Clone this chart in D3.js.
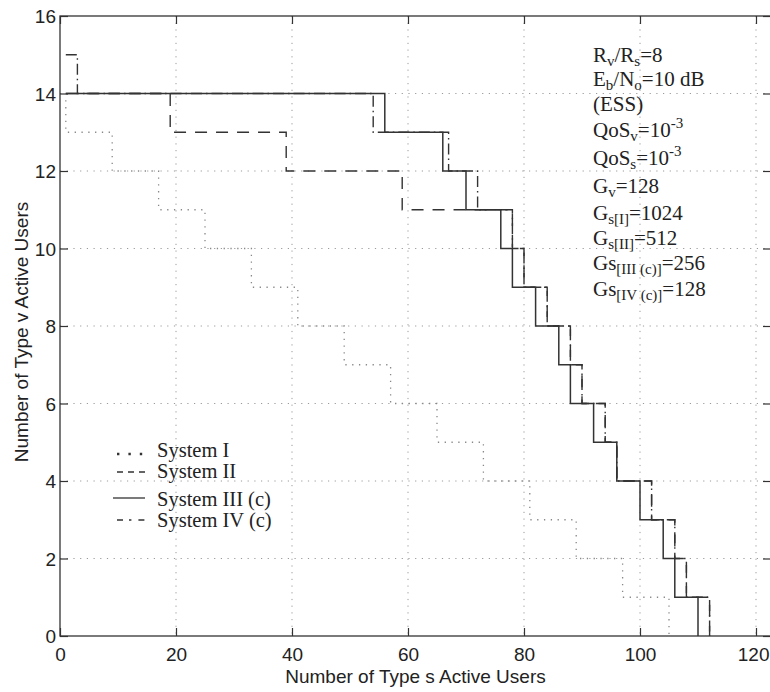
<!DOCTYPE html>
<html><head><meta charset="utf-8">
<script src="https://cdn.jsdelivr.net/npm/d3@7"></script>
<style>html,body{margin:0;padding:0;background:#fff;}svg{display:block;}</style>
</head><body>
<script>
// ---- data ----
const xTicks = [0, 20, 40, 60, 80, 100, 120];
const yTicks = [0, 2, 4, 6, 8, 10, 12, 14, 16];
// each point: the level y starts at x (step-after)
const sysI_x   = [1, 1, 9, 17, 25, 33, 41, 49, 57, 65, 73, 81, 89, 97, 105];
const sysI_y   = [14, 13, 12, 11, 10, 9, 8, 7, 6, 5, 4, 3, 2, 1, 0];
const sysII_x  = [1, 19, 39, 59, 78, 80, 84, 88, 90, 94, 96, 102, 106, 108, 112];
const sysII_y  = [14, 13, 12, 11, 10, 9, 8, 7, 6, 5, 4, 3, 2, 1, 0];
const sysIII_x = [1, 56, 66, 70, 76, 78, 82, 86, 88, 92, 96, 100, 104, 106, 110];
const sysIII_y = [14, 13, 12, 11, 10, 9, 8, 7, 6, 5, 4, 3, 2, 1, 0];
const sysIV_x  = [1, 3, 54, 67, 72, 78, 80, 84, 88, 90, 94, 96, 102, 106, 108, 112];
const sysIV_y  = [15, 14, 13, 12, 11, 10, 9, 8, 7, 6, 5, 4, 3, 2, 1, 0];
const seriesNames = ["System I", "System II", "System III (c)", "System IV (c)"];
const xTitle = "Number of Type s Active Users";
const yTitle = "Number of Type v Active Users";
// annotation lines: [text, kind] kind: n normal, sub, sup
const annotation = [
  [["R","n"],["v","sub"],["/R","n"],["s","sub"],["=8","n"]],
  [["E","n"],["b","sub"],["/N","n"],["o","sub"],["=10 dB","n"]],
  [["(ESS)","n"]],
  [["QoS","n"],["v","sub"],["=10","n"],["-3","sup"]],
  [["QoS","n"],["s","sub"],["=10","n"],["-3","sup"]],
  [["G","n"],["v","sub"],["=128","n"]],
  [["G","n"],["s[I]","sub"],["=1024","n"]],
  [["G","n"],["s[II]","sub"],["=512","n"]],
  [["Gs","n"],["[III (c)]","sub"],["=256","n"]],
  [["Gs","n"],["[IV (c)]","sub"],["=128","n"]]
];

// ---- layout ----
const W = 770, H = 692;
const L = 60, R = 771, T = 16, B = 636;
const svg = d3.select("body").append("svg").attr("width", W).attr("height", H)
  .style("background", "#fff");

const x = d3.scaleLinear().domain([0, 120]).range([L, L + 5.8 * 120]);
const y = d3.scaleLinear().domain([0, 16]).range([B, T]);

// grid
const grid = svg.append("g").attr("stroke", "#9a9a9a").attr("stroke-width", 1)
  .attr("stroke-dasharray", "1.2,5.5");
xTicks.filter(d => d > 0).forEach(d => {
  grid.append("line").attr("x1", x(d)).attr("x2", x(d)).attr("y1", T).attr("y2", B);
});
yTicks.filter(d => d > 0 && d < 16).forEach(d => {
  grid.append("line").attr("x1", L).attr("x2", R).attr("y1", y(d)).attr("y2", y(d));
});

// axes (MATLAB-like box with inward ticks)
const axB = svg.append("g").attr("transform", `translate(0,${B})`)
  .call(d3.axisBottom(x).tickValues(xTicks).tickSizeInner(-8).tickSizeOuter(0).tickPadding(12));
const axT = svg.append("g").attr("transform", `translate(0,${T})`)
  .call(d3.axisTop(x).tickValues(xTicks).tickSizeInner(-8).tickSizeOuter(0).tickFormat(""));
const axL = svg.append("g").attr("transform", `translate(${L},0)`)
  .call(d3.axisLeft(y).tickValues(yTicks).tickSizeInner(-8).tickSizeOuter(0).tickPadding(4));
const yR = d3.scaleLinear().domain([0, 16]).range([B, T]);
const axR = svg.append("g").attr("transform", `translate(${R},0)`)
  .call(d3.axisRight(yR).tickValues(yTicks).tickSizeInner(-8).tickSizeOuter(0).tickFormat(""));
[axB, axT, axL, axR].forEach(a => {
  a.selectAll("path.domain").remove();
  a.selectAll("line").attr("stroke", "#333").attr("stroke-width", 1.2);
  a.selectAll("text").attr("fill", "#222").style("font-family", "'Liberation Sans', Arial, sans-serif")
    .style("font-size", "19px");
});
axB.selectAll("text").attr("dy", "0.71em");
// keep the last label inside the window
axB.selectAll(".tick").filter(d => d === 120).select("text")
  .attr("text-anchor", "end").attr("x", W - x(120) - 1);
axL.selectAll("text").attr("dy", "0.36em");
// box
svg.append("rect").attr("x", L).attr("y", T).attr("width", R - L).attr("height", B - T)
  .attr("fill", "none").attr("stroke", "#333").attr("stroke-width", 1.3);

// titles
svg.append("text").attr("x", (L + R) / 2).attr("y", 683).attr("text-anchor", "middle")
  .style("font-family", "'Liberation Sans', Arial, sans-serif").style("font-size", "19px")
  .attr("fill", "#222").text(xTitle);
svg.append("text").attr("transform", `translate(28,${(T + B) / 2 + 6}) rotate(-90)`)
  .attr("text-anchor", "middle")
  .style("font-family", "'Liberation Sans', Arial, sans-serif").style("font-size", "19px")
  .attr("fill", "#222").text(yTitle);

// series
const line = d3.line().x(d => x(d[0])).y(d => y(d[1])).curve(d3.curveStepAfter);
const series = [
  {xs: sysI_x, ys: sysI_y, dash: "1.3,5.5", color: "#888", w: 1.3},
  {xs: sysII_x, ys: sysII_y, dash: "12,9", color: "#333", w: 1.4},
  {xs: sysIII_x, ys: sysIII_y, dash: null, color: "#333", w: 1.5},
  {xs: sysIV_x, ys: sysIV_y, dash: "11,4,1.5,4", color: "#333", w: 1.4}
];
series.forEach(s => {
  const pts = s.xs.map((v, i) => [v, s.ys[i]]);
  svg.append("path").attr("d", line(pts)).attr("fill", "none")
    .attr("stroke", s.color).attr("stroke-width", s.w)
    .attr("stroke-dasharray", s.dash);
});

// legend
const legBase = [457, 478, 506, 527];
const legSample = [
  {y: 454, dash: "2.4,9", w: 2.4, color: "#333", x1: 117, x2: 147},
  {y: 472, dash: "6,5", w: 1.5, color: "#333", x1: 117, x2: 147},
  {y: 498, dash: null, w: 1.3, color: "#333", x1: 113, x2: 145},
  {y: 520, dash: "6,6,2.4,7,6", w: 1.6, color: "#333", x1: 117, x2: 147}
];
seriesNames.forEach((n, i) => {
  const s = legSample[i];
  svg.append("line").attr("x1", s.x1).attr("x2", s.x2).attr("y1", s.y).attr("y2", s.y)
    .attr("stroke", s.color).attr("stroke-width", s.w).attr("stroke-dasharray", s.dash);
  svg.append("text").attr("x", 157).attr("y", legBase[i])
    .style("font-family", "'Liberation Serif', 'Times New Roman', serif").style("font-size", "20.5px")
    .attr("fill", "#222").text(n);
});

// annotation
const annBase = [62, 86, 111, 137, 165, 193, 220, 245, 270, 296];
annotation.forEach((segs, i) => {
  const t = svg.append("text").attr("x", 593).attr("y", annBase[i])
    .style("font-family", "'Liberation Serif', 'Times New Roman', serif").style("font-size", "21px")
    .attr("fill", "#222");
  let shift = 0;
  segs.forEach(([txt, kind]) => {
    let target = kind === "sub" ? 4 : kind === "sup" ? -9 : 0;
    t.append("tspan").attr("dy", target - shift)
      .style("font-size", kind === "n" ? "21px" : "15px").text(txt);
    shift = target;
  });
});
</script>
</body></html>
